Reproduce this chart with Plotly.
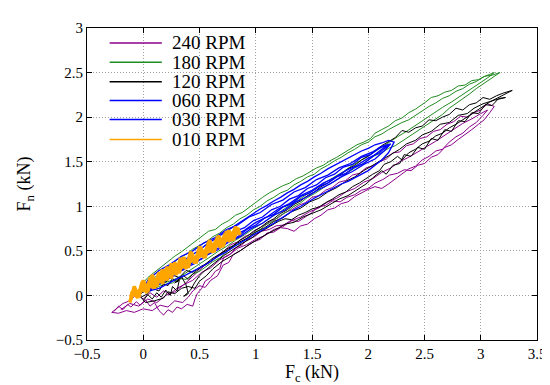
import plotly.graph_objects as go

# ---------------- data ----------------
series_names = ["240 RPM", "180 RPM", "120 RPM", "060 RPM", "030 RPM", "010 RPM"]
series_colors = ["#8b008b", "#228b22", "#000000", "#0000ff", "#0000ff", "#ffa500"]

rpm240_points = [
    (-0.26,-0.18),(-0.22,-0.12),(-0.18,-0.16),(-0.14,-0.10),(-0.11,-0.13),(-0.06,-0.07),(-0.03,-0.11),(0.02,-0.05),
    (0.06,-0.12),(0.10,-0.08),(0.14,-0.17),(0.18,-0.22),(0.22,-0.16),(0.26,-0.19),(0.30,-0.13),(0.34,-0.15),
    (0.39,-0.10),(0.44,-0.12),(0.46,-0.04),(0.48,0.02),(0.52,0.08),(0.55,0.16),(0.60,0.20),(0.64,0.27),
    (0.68,0.30),(0.70,0.38),(0.72,0.43),(0.78,0.47),(0.82,0.53),(0.88,0.57),(0.93,0.63),(0.99,0.66),
    (1.05,0.72),(1.12,0.74),(1.18,0.78),(1.25,0.79),(1.31,0.84),(1.38,0.83),(1.44,0.88),(1.50,0.93),
    (1.55,0.99),(1.62,1.01),(1.68,1.06),(1.75,1.05),(1.81,1.10),(1.88,1.13),(1.94,1.18),(2.00,1.20),
    (2.06,1.26),(2.13,1.30),(2.19,1.35),(2.26,1.37),(2.32,1.41),(2.38,1.40),(2.44,1.46),(2.50,1.48),
    (2.56,1.55),(2.62,1.58),(2.68,1.66),(2.74,1.69),(2.80,1.75),(2.86,1.80),(2.92,1.86),(2.98,1.92),
    (3.03,1.97),(3.08,2.05),(3.12,2.12),
    (3.06,2.15),(3.00,2.08),(2.94,2.05),(2.88,2.00),(2.82,2.01),(2.76,1.95),(2.70,1.92),(2.64,1.86),
    (2.58,1.84),(2.52,1.78),(2.46,1.76),(2.40,1.70),(2.34,1.68),(2.28,1.61),(2.22,1.60),(2.16,1.53),
    (2.10,1.50),(2.04,1.45),(1.98,1.43),(1.92,1.37),(1.86,1.35),(1.80,1.29),(1.74,1.27),(1.68,1.21),
    (1.62,1.18),(1.56,1.12),(1.50,1.10),(1.44,1.04),(1.38,1.01),(1.32,0.96),(1.26,0.93),(1.20,0.87),
    (1.14,0.84),(1.08,0.79),(1.02,0.75),(0.96,0.69),(0.90,0.66),(0.84,0.60),(0.78,0.57),(0.72,0.50),
    (0.66,0.45),(0.60,0.38),(0.54,0.33),(0.48,0.26),(0.42,0.20),(0.36,0.12),(0.30,0.08),(0.24,0.02),
    (0.18,0.05),(0.12,-0.02),(0.06,0.03),(0.00,-0.04),(-0.06,0.01),(-0.12,-0.06),(-0.18,-0.09),(-0.24,-0.15),
    (-0.28,-0.19),
    (-0.22,-0.20),(-0.15,-0.17),(-0.08,-0.19),(0.00,-0.15),(0.08,-0.17),(0.15,-0.11),(0.22,-0.13),(0.28,-0.06),
    (0.35,-0.08),(0.40,-0.02),(0.44,0.05),(0.50,0.11),(0.55,0.09),(0.60,0.17),(0.66,0.22),(0.71,0.34),
    (0.76,0.37),(0.80,0.46),(0.86,0.50),(0.92,0.55),(0.98,0.60),(1.04,0.63),(1.10,0.70),(1.16,0.71),
    (1.22,0.76),(1.28,0.75),(1.34,0.72),(1.40,0.78),(1.46,0.80),(1.52,0.86),(1.58,0.90),(1.64,0.96),
    (1.70,0.98),(1.76,1.03),(1.82,1.05),(1.88,1.11),(1.94,1.15),(2.00,1.19),(2.06,1.22),(2.12,1.20),
    (2.18,1.25),(2.24,1.31),(2.30,1.36),(2.36,1.42),(2.42,1.45),(2.48,1.52),(2.54,1.56),(2.60,1.62),
    (2.66,1.64),(2.72,1.72),(2.78,1.78),(2.84,1.82),(2.90,1.89),(2.96,1.94),(3.02,2.02),(3.06,2.08),
    (3.00,2.04),(2.92,1.98),(2.84,1.93),(2.76,1.86),(2.68,1.80),(2.60,1.73),(2.52,1.67),(2.44,1.61),
    (2.36,1.55),(2.28,1.50),(2.20,1.43),(2.12,1.38),(2.04,1.31),(1.96,1.27),(1.88,1.20),(1.80,1.16),
    (1.72,1.09),(1.64,1.05),(1.56,0.98),(1.48,0.94),(1.40,0.88),(1.32,0.84),(1.24,0.77),(1.16,0.74),
    (1.08,0.67),(1.00,0.63),(0.92,0.57),(0.84,0.53),(0.76,0.45),(0.68,0.40),(0.60,0.31),(0.52,0.26),
    (0.44,0.17),(0.36,0.12),(0.28,0.04),(0.20,0.00),(0.12,-0.08),(0.04,-0.04),(-0.04,-0.12),(-0.12,-0.09),
    (-0.20,-0.16),
]

rpm180_points = [
    (0.10,0.08),(0.18,0.12),(0.26,0.14),(0.32,0.19),(0.38,0.18),(0.44,0.24),(0.50,0.27),(0.56,0.32),
    (0.62,0.38),(0.68,0.42),(0.74,0.48),(0.80,0.55),(0.86,0.58),(0.92,0.64),(0.98,0.70),(1.04,0.74),
    (1.10,0.80),(1.16,0.84),(1.22,0.90),(1.28,0.94),(1.34,1.00),(1.40,1.04),(1.46,1.10),(1.52,1.14),
    (1.58,1.19),(1.64,1.24),(1.70,1.28),(1.76,1.33),(1.82,1.38),(1.88,1.43),(1.94,1.47),(2.00,1.52),
    (2.06,1.57),(2.12,1.60),(2.18,1.65),(2.24,1.68),(2.30,1.73),(2.36,1.78),(2.42,1.83),(2.48,1.88),
    (2.54,1.93),(2.60,1.98),(2.66,2.03),(2.72,2.10),(2.78,2.15),(2.84,2.21),(2.90,2.26),(2.96,2.32),
    (3.02,2.37),(3.08,2.42),(3.14,2.47),
    (3.17,2.50),(3.10,2.47),(3.04,2.46),(2.98,2.42),(2.92,2.41),(2.86,2.36),(2.80,2.35),(2.74,2.30),
    (2.68,2.28),(2.62,2.24),(2.56,2.22),(2.50,2.16),(2.46,2.12),(2.42,2.09),(2.36,2.05),(2.30,1.99),
    (2.24,1.96),(2.18,1.90),(2.12,1.86),(2.06,1.82),(2.02,1.76),(1.96,1.72),(1.90,1.69),(1.84,1.64),
    (1.78,1.60),(1.72,1.55),(1.66,1.51),(1.60,1.46),(1.54,1.43),(1.48,1.38),(1.42,1.34),(1.36,1.31),
    (1.30,1.26),(1.24,1.23),(1.18,1.19),(1.12,1.15),(1.06,1.10),(1.00,1.04),(0.94,0.98),(0.88,0.93),
    (0.82,0.90),(0.76,0.84),(0.70,0.80),(0.64,0.74),(0.58,0.72),(0.52,0.66),(0.46,0.61),(0.40,0.55),
    (0.34,0.49),(0.28,0.44),(0.22,0.38),(0.16,0.32),(0.10,0.25),(0.04,0.20),(0.00,0.14),
    (0.02,0.10),(0.08,0.18),(0.14,0.24),(0.20,0.30),(0.26,0.36),(0.32,0.42),(0.38,0.46),(0.44,0.52),
    (0.50,0.56),(0.56,0.60),(0.62,0.66),(0.68,0.70),(0.74,0.76),(0.80,0.80),(0.86,0.86),(0.92,0.90),
    (0.98,0.96),(1.04,1.00),(1.10,1.06),(1.16,1.10),(1.22,1.15),(1.28,1.18),(1.34,1.24),(1.40,1.28),
    (1.46,1.33),(1.52,1.36),(1.58,1.42),(1.64,1.46),(1.70,1.51),(1.76,1.55),(1.82,1.60),(1.88,1.64),
    (1.94,1.69),(2.00,1.72),(2.06,1.78),(2.12,1.81),(2.18,1.86),(2.24,1.90),(2.30,1.94),(2.36,1.97),
    (2.42,2.02),(2.48,2.06),(2.54,2.12),(2.60,2.16),(2.66,2.21),(2.72,2.24),(2.78,2.29),(2.84,2.32),
    (2.90,2.37),(2.96,2.40),(3.02,2.45),(3.08,2.48),(3.12,2.50),
    (3.06,2.44),(2.98,2.37),(2.90,2.31),(2.82,2.24),(2.74,2.17),(2.66,2.11),(2.58,2.04),(2.50,1.97),
    (2.42,1.91),(2.34,1.84),(2.26,1.78),(2.18,1.71),(2.10,1.65),(2.02,1.58),(1.94,1.52),(1.86,1.46),
    (1.78,1.39),(1.70,1.33),(1.62,1.27),(1.54,1.20),(1.46,1.14),(1.38,1.07),(1.30,1.01),(1.22,0.94),
    (1.14,0.88),(1.06,0.81),(0.98,0.75),(0.90,0.68),(0.82,0.62),(0.74,0.55),(0.66,0.49),(0.58,0.42),
    (0.50,0.35),(0.42,0.28),(0.34,0.22),(0.26,0.17),(0.18,0.14),(0.10,0.10),
]

rpm120_points = [
    (0.00,-0.06),(0.04,0.01),(0.08,-0.04),(0.12,0.03),(0.16,-0.02),(0.20,0.06),(0.24,0.00),(0.26,0.10),
    (0.30,0.05),(0.32,0.17),(0.28,0.14),(0.34,0.21),(0.38,0.12),(0.40,0.02),(0.36,-0.01),(0.42,0.06),
    (0.46,0.15),(0.50,0.22),(0.54,0.27),(0.58,0.31),(0.62,0.36),(0.66,0.40),(0.72,0.45),(0.78,0.50),
    (0.84,0.55),(0.90,0.60),(0.96,0.64),(1.02,0.70),(1.08,0.74),(1.14,0.79),(1.20,0.83),(1.26,0.86),
    (1.32,0.85),(1.38,0.90),(1.44,0.93),(1.50,0.97),(1.56,0.99),(1.62,1.04),(1.68,1.08),(1.74,1.13),
    (1.80,1.16),(1.86,1.22),(1.92,1.26),(1.98,1.31),(2.04,1.36),(2.10,1.40),(2.14,1.47),(2.20,1.50),
    (2.26,1.56),(2.30,1.52),(2.36,1.60),(2.42,1.64),(2.48,1.70),(2.54,1.73),(2.60,1.79),(2.66,1.82),
    (2.72,1.88),(2.78,1.92),(2.84,1.97),(2.90,2.02),(2.96,2.06),(3.02,2.12),(3.08,2.17),(3.14,2.21),
    (3.20,2.25),(3.28,2.30),
    (3.20,2.27),(3.14,2.24),(3.08,2.20),(3.02,2.22),(2.96,2.16),(2.90,2.14),(2.84,2.08),(2.78,2.10),
    (2.72,2.03),(2.66,2.00),(2.60,1.96),(2.54,1.97),(2.48,1.90),(2.42,1.88),(2.36,1.83),(2.30,1.85),
    (2.24,1.77),(2.18,1.72),(2.12,1.68),(2.06,1.62),(2.00,1.56),(1.94,1.52),(1.88,1.46),(1.82,1.42),
    (1.76,1.36),(1.70,1.32),(1.64,1.26),(1.58,1.22),(1.52,1.16),(1.46,1.12),(1.40,1.06),(1.34,1.02),
    (1.28,0.96),(1.22,0.92),(1.16,0.86),(1.10,0.82),(1.04,0.76),(0.98,0.72),(0.92,0.66),(0.86,0.62),
    (0.80,0.56),(0.74,0.52),(0.68,0.46),(0.62,0.42),(0.56,0.36),(0.50,0.31),(0.44,0.24),(0.40,0.18),
    (0.36,0.22),(0.30,0.15),(0.26,0.19),(0.22,0.11),(0.18,0.13),(0.14,0.05),(0.08,0.08),(0.04,0.02),
    (-0.02,-0.02),
    (0.02,-0.08),(0.10,-0.06),(0.18,-0.03),(0.22,0.04),(0.28,0.02),(0.34,0.08),(0.40,0.10),(0.46,0.08),
    (0.50,0.16),(0.56,0.22),(0.62,0.30),(0.70,0.38),(0.78,0.44),(0.86,0.50),(0.94,0.57),(1.02,0.63),
    (1.10,0.69),(1.18,0.74),(1.26,0.80),(1.34,0.82),(1.42,0.88),(1.50,0.92),(1.58,0.96),(1.66,1.02),
    (1.74,1.08),(1.82,1.12),(1.90,1.19),(1.98,1.25),(2.06,1.34),(2.12,1.40),(2.16,1.36),(2.22,1.46),
    (2.28,1.48),(2.32,1.58),(2.38,1.56),(2.44,1.66),(2.50,1.64),(2.56,1.76),(2.62,1.74),(2.68,1.86),
    (2.74,1.84),(2.80,1.96),(2.86,1.95),(2.92,2.05),(2.98,2.04),(3.04,2.14),(3.10,2.13),(3.16,2.21),
    (3.22,2.22),
    (3.12,2.19),(3.02,2.15),(2.94,2.10),(2.88,2.04),(2.80,2.02),(2.72,1.94),(2.64,1.92),(2.56,1.84),
    (2.48,1.80),(2.42,1.74),(2.34,1.70),(2.28,1.64),(2.20,1.58),(2.12,1.52),(2.04,1.46),(1.96,1.40),
    (1.88,1.33),(1.80,1.28),(1.72,1.21),(1.64,1.16),(1.56,1.09),(1.48,1.05),(1.40,0.98),(1.32,0.94),
    (1.24,0.87),(1.16,0.83),(1.08,0.76),(1.00,0.71),(0.92,0.64),(0.84,0.59),(0.76,0.52),(0.68,0.46),
    (0.60,0.38),(0.52,0.33),(0.44,0.26),(0.38,0.28),(0.32,0.20),(0.26,0.23),(0.20,0.15),(0.14,0.16),
    (0.08,0.09),(0.02,0.06),(-0.04,0.00),
]

rpm060_points = [
    (0.02,0.03),(0.08,0.06),(0.14,0.08),(0.20,0.12),(0.26,0.16),(0.32,0.20),(0.38,0.23),(0.44,0.27),
    (0.50,0.31),(0.56,0.35),(0.62,0.40),(0.68,0.45),(0.74,0.49),(0.80,0.54),(0.86,0.59),(0.92,0.63),
    (0.98,0.68),(1.04,0.72),(1.10,0.77),(1.16,0.81),(1.22,0.86),(1.28,0.91),(1.34,0.96),(1.40,1.00),
    (1.46,1.05),(1.52,1.09),(1.58,1.13),(1.64,1.17),(1.70,1.21),(1.76,1.25),(1.82,1.28),(1.88,1.32),
    (1.94,1.36),(2.00,1.40),(2.06,1.46),(2.12,1.52),(2.18,1.60),(2.23,1.72),
    (2.18,1.74),(2.12,1.71),(2.06,1.69),(2.00,1.65),(1.94,1.62),(1.88,1.58),(1.82,1.54),(1.76,1.50),
    (1.70,1.46),(1.64,1.42),(1.58,1.37),(1.52,1.33),(1.46,1.28),(1.40,1.24),(1.34,1.19),(1.28,1.15),
    (1.22,1.10),(1.16,1.06),(1.10,1.01),(1.04,0.97),(0.98,0.92),(0.92,0.87),(0.86,0.82),(0.80,0.77),
    (0.74,0.72),(0.68,0.67),(0.62,0.62),(0.56,0.57),(0.50,0.51),(0.44,0.46),(0.38,0.41),(0.32,0.35),
    (0.26,0.30),(0.20,0.25),(0.14,0.19),(0.08,0.14),(0.02,0.09),
    (0.04,0.05),(0.12,0.13),(0.20,0.17),(0.28,0.25),(0.36,0.29),(0.44,0.37),(0.52,0.41),(0.60,0.49),
    (0.68,0.54),(0.76,0.62),(0.84,0.66),(0.92,0.74),(1.00,0.79),(1.08,0.87),(1.16,0.91),(1.24,0.99),
    (1.32,1.03),(1.40,1.11),(1.48,1.15),(1.56,1.22),(1.64,1.26),(1.72,1.33),(1.80,1.37),(1.88,1.44),
    (1.96,1.48),(2.04,1.56),(2.10,1.62),(2.16,1.68),
    (2.10,1.66),(2.02,1.58),(1.94,1.55),(1.86,1.47),(1.78,1.44),(1.70,1.36),(1.62,1.32),(1.54,1.24),
    (1.46,1.20),(1.38,1.12),(1.30,1.08),(1.22,1.00),(1.14,0.96),(1.06,0.88),(0.98,0.84),(0.90,0.76),
    (0.82,0.72),(0.74,0.64),(0.66,0.59),(0.58,0.51),(0.50,0.47),(0.42,0.39),(0.34,0.34),(0.26,0.26),
    (0.18,0.21),(0.10,0.12),(0.02,0.07),
]

rpm030_points = [
    (0.06,0.06),(0.16,0.14),(0.26,0.21),(0.36,0.30),(0.46,0.36),(0.56,0.45),(0.66,0.51),(0.76,0.60),
    (0.86,0.66),(0.96,0.75),(1.06,0.81),(1.16,0.90),(1.26,0.96),(1.36,1.05),(1.46,1.11),(1.56,1.19),
    (1.66,1.25),(1.76,1.33),(1.86,1.39),(1.96,1.47),(2.06,1.53),(2.14,1.62),(2.20,1.70),
    (2.14,1.68),(2.04,1.61),(1.94,1.56),(1.84,1.48),(1.74,1.43),(1.64,1.35),(1.54,1.30),(1.44,1.21),
    (1.34,1.16),(1.24,1.07),(1.14,1.02),(1.04,0.93),(0.94,0.88),(0.84,0.79),(0.74,0.74),(0.64,0.65),
    (0.54,0.59),(0.44,0.50),(0.34,0.44),(0.24,0.35),(0.14,0.28),(0.04,0.17),
    (0.00,0.06),(0.10,0.12),(0.20,0.22),(0.30,0.28),(0.40,0.37),(0.50,0.43),(0.60,0.52),(0.70,0.58),
    (0.80,0.67),(0.90,0.73),(1.00,0.82),(1.10,0.88),(1.20,0.97),(1.30,1.03),(1.40,1.12),(1.50,1.18),
    (1.60,1.26),(1.70,1.32),(1.80,1.40),(1.90,1.46),(2.00,1.54),(2.10,1.60),(2.18,1.69),
]

rpm010_points = [
    (-0.12,-0.08),(-0.08,0.10),(-0.05,-0.03),(-0.01,0.15),(0.03,0.03),(0.06,0.20),(0.10,0.08),(0.14,0.26),
    (0.17,0.13),(0.21,0.32),(0.25,0.19),(0.28,0.37),(0.32,0.25),(0.36,0.43),(0.40,0.31),(0.43,0.48),
    (0.47,0.36),(0.51,0.54),(0.55,0.42),(0.58,0.60),(0.62,0.48),(0.66,0.66),(0.70,0.54),(0.74,0.72),
    (0.78,0.61),(0.82,0.77),(0.86,0.68),
    (0.84,0.76),(0.80,0.62),(0.76,0.73),(0.71,0.55),(0.67,0.67),(0.63,0.49),(0.59,0.62),(0.54,0.43),
    (0.50,0.55),(0.46,0.36),(0.42,0.49),(0.38,0.30),(0.33,0.42),(0.29,0.23),(0.25,0.36),(0.21,0.17),
    (0.17,0.29),(0.12,0.10),(0.08,0.23),(0.04,0.04),(0.00,0.17),(-0.04,-0.02),(-0.08,0.10),(-0.11,-0.05),
    (-0.10,0.04),(-0.06,-0.01),(-0.02,0.09),(0.02,0.05),(0.05,0.15),(0.09,0.08),(0.13,0.21),(0.16,0.15),
    (0.20,0.27),(0.24,0.21),(0.27,0.32),(0.31,0.27),(0.35,0.38),(0.38,0.32),(0.42,0.44),(0.46,0.38),
    (0.49,0.49),(0.53,0.44),(0.57,0.55),(0.60,0.49),(0.64,0.60),(0.68,0.55),(0.72,0.67),(0.76,0.62),
    (0.80,0.71),(0.83,0.68),
    (0.78,0.67),(0.72,0.60),(0.66,0.58),(0.60,0.51),(0.54,0.49),(0.48,0.42),(0.42,0.40),(0.36,0.33),
    (0.30,0.31),(0.24,0.24),(0.18,0.22),(0.12,0.15),(0.06,0.13),(0.00,0.06),(-0.06,0.04),(-0.12,-0.02),
    (-0.08,0.02),(-0.02,0.05),(0.04,0.10),(0.10,0.13),(0.16,0.19),(0.22,0.22),(0.28,0.28),(0.34,0.31),
    (0.40,0.37),(0.46,0.40),(0.52,0.46),(0.58,0.49),(0.64,0.55),(0.70,0.58),(0.76,0.64),(0.82,0.67),
]

x_ticks = [-0.5, 0, 0.5, 1, 1.5, 2, 2.5, 3, 3.5]
y_ticks = [-0.5, 0, 0.5, 1, 1.5, 2, 2.5, 3]
x_title = "F<sub>c</sub> (kN)"
y_title = "F<sub>n</sub> (kN)"

all_series = [rpm240_points, rpm180_points, rpm120_points,
              rpm060_points, rpm030_points, rpm010_points]
line_widths = [1, 1, 1, 1.3, 1.3, 3.5]

# ---------------- figure ----------------
FONT = "Times New Roman, Liberation Serif, serif"
fig = go.Figure()
for name, color, pts, lw in zip(series_names, series_colors, all_series, line_widths):
    fig.add_trace(go.Scatter(
        x=[p[0] for p in pts], y=[p[1] for p in pts],
        mode="lines", name=name, showlegend=False,
        line=dict(color=color, width=lw),
    ))

# manual gnuplot-style legend (top-left, inside the frame)
row_y = [0.952, 0.890, 0.828, 0.768, 0.707, 0.643]
for name, color, ry in zip(series_names, series_colors, row_y):
    fig.add_shape(type="line", xref="paper", yref="paper",
                  x0=0.0503, x1=0.1663, y0=ry, y1=ry,
                  line=dict(color=color, width=1.5))
    fig.add_annotation(xref="paper", yref="paper", x=0.184, y=ry,
                       text=name, showarrow=False, xanchor="left", yanchor="middle",
                       font=dict(family=FONT, size=19, color="black"))

axis_common = dict(
    showline=True, linecolor="black", linewidth=1, mirror="ticks",
    ticks="inside", ticklen=5, tickcolor="black", tickwidth=1,
    showgrid=True, gridcolor="#a0a0a0", griddash="1px,2px", gridwidth=1,
    zeroline=False, tickfont=dict(family=FONT, size=15, color="black"),
)
fig.update_xaxes(range=[-0.5, 3.5], tickvals=x_ticks,
                 title=dict(text=x_title, font=dict(family=FONT, size=18, color="black"), standoff=2),
                 **axis_common)
fig.update_yaxes(range=[-0.5, 3], tickvals=y_ticks,
                 title=dict(text=y_title, font=dict(family=FONT, size=18, color="black"), standoff=20),
                 **axis_common)

fig.update_layout(
    width=550, height=385,
    margin=dict(l=79, r=14, t=18, b=53),
    plot_bgcolor="white", paper_bgcolor="white",
    font=dict(family=FONT, color="black"),
)
fig.write_html("out.html")
